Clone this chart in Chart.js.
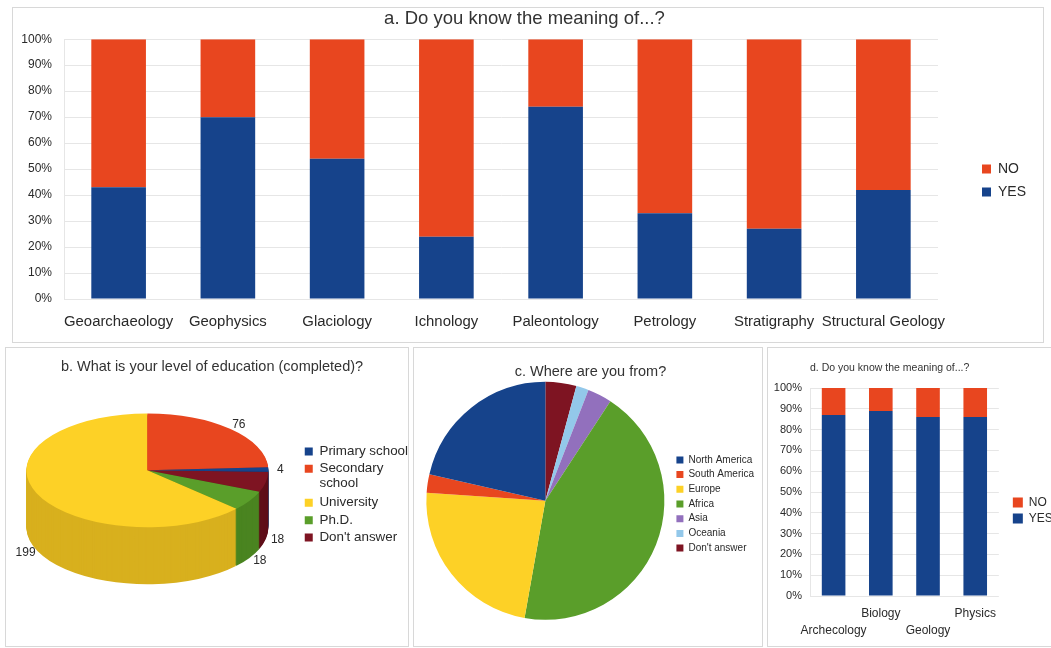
<!DOCTYPE html>
<html>
<head>
<meta charset="utf-8">
<script src="https://cdn.jsdelivr.net/npm/chart.js@4.4.1/dist/chart.umd.min.js"></script>
<style>
  html, body { margin: 0; padding: 0; background: #fff; width: 1051px; height: 648px; overflow: hidden; position: relative; }
  .panel { position: absolute; box-sizing: border-box; border: 1px solid #d8d8d8; background: #fff; }
  .panel canvas { display: block; }
</style>
</head>
<body>
<div class="panel" style="left:12px;top:7px;width:1032px;height:336px"><canvas id="chartA" width="1030" height="334"></canvas></div>
<div class="panel" style="left:5px;top:347px;width:404px;height:300px"><canvas id="chartB" width="412" height="298"></canvas></div>
<div class="panel" style="left:413px;top:347px;width:350px;height:300px"><canvas id="chartC" width="350" height="298"></canvas></div>
<div class="panel" style="left:767px;top:347px;width:300px;height:300px"><canvas id="chartD" width="298" height="298"></canvas></div>
<script>
// a. Do you know the meaning of...? (percent)
const topics = ["Geoarchaeology", "Geophysics", "Glaciology", "Ichnology", "Paleontology", "Petrology", "Stratigraphy", "Structural Geology"];
const topicsYes = [43, 70, 54, 24, 74, 33, 27, 42];
const topicsNo = [57, 30, 46, 76, 26, 67, 73, 58];

// b. level of education (counts), legend order
const education = ["Primary school", ["Secondary", "school"], "University", "Ph.D.", "Don't answer"];
const educationCounts = [4, 76, 199, 18, 18];

// c. where are you from (share of answers, %), legend order
const regions = ["North America", "South America", "Europe", "Africa", "Asia", "Oceania", "Don't answer"];
const regionShares = [21.4, 2.5, 23.3, 43.6, 3.3, 1.7, 4.2];

// d. Do you know the meaning of...? (percent)
const sciences = ["Archecology", "Biology", "Geology", "Physics"];
const sciencesYes = [87, 89, 86, 86];
const sciencesNo = [13, 11, 14, 14];

const BLUE = "#16438b", ORANGE = "#e8461f", YELLOW = "#fdd126", GREEN = "#5a9e2a", DARKRED = "#7e1422";
const PURPLE = "#9270bd", LIGHTBLUE = "#93c8ea";
const eduColors = [BLUE, ORANGE, YELLOW, GREEN, DARKRED];
const eduSides = ["#0f3466", "#c4381a", "#d8b01e", "#4a8420", "#5f0e18"];
const regionColors = [BLUE, ORANGE, YELLOW, GREEN, PURPLE, LIGHTBLUE, DARKRED];

Chart.defaults.font.family = "'Liberation Sans', Arial, sans-serif";
Chart.defaults.color = "#2a2a2a";

// squashes a pie into an ellipse and gives it a side wall, then writes the values
const tiltPlugin = {
  id: "tilt",
  beforeDatasetsDraw(chart, args, opts) {
    const arcs = chart.getDatasetMeta(0).data;
    const ctx = chart.ctx;
    const { x, y, outerRadius } = arcs[0];
    const sq = opts.squash || 1;
    ctx.save();
    ctx.translate(x + (opts.dx || 0), y + (opts.dy || 0));
    ctx.scale(1, sq);
    ctx.translate(-x, -y);
    for (let d = opts.depth || 0; d > 0; d--) {
      arcs.forEach((arc, i) => {
        ctx.beginPath();
        ctx.moveTo(x, y + d / sq);
        ctx.arc(x, y + d / sq, outerRadius, arc.startAngle, arc.endAngle);
        ctx.closePath();
        ctx.fillStyle = opts.sideColors[i];
        ctx.fill();
      });
    }
  },
  afterDatasetsDraw(chart, args, opts) {
    const ctx = chart.ctx;
    ctx.restore();
    if (!opts.values) return;
    const arcs = chart.getDatasetMeta(0).data;
    const values = chart.data.datasets[0].data;
    const sq = opts.squash || 1;
    ctx.save();
    ctx.font = "12px 'Liberation Sans', Arial, sans-serif";
    ctx.fillStyle = "#2a2a2a";
    ctx.textAlign = "center";
    ctx.textBaseline = "middle";
    arcs.forEach((arc, i) => {
      const mid = (arc.startAngle + arc.endAngle) / 2;
      const R = arc.outerRadius + 12;
      const px = arc.x + (opts.dx || 0) + R * Math.cos(mid);
      const py = arc.y + (opts.dy || 0) + R * Math.sin(mid) * sq + (Math.sin(mid) > 0.1 ? opts.depth : 0);
      ctx.fillText(String(values[i]), px, py);
    });
    ctx.restore();
  }
};

// spacer that shifts legend items downwards
const legendShift = (h) => ({ display: true, text: "", font: { size: 1, lineHeight: 1 }, padding: { top: h, bottom: 0 } });

// ---- a ----
new Chart(document.getElementById("chartA"), {
  type: "bar",
  data: {
    labels: topics,
    datasets: [
      { label: "YES", data: topicsYes, backgroundColor: BLUE },
      { label: "NO", data: topicsNo, backgroundColor: ORANGE }
    ]
  },
  options: {
    responsive: false,
    animation: false,
    layout: { padding: { left: 0, right: 7, top: 0, bottom: 11 } },
    datasets: { bar: { categoryPercentage: 1, barPercentage: 0.5 } },
    scales: {
      x: {
        stacked: true,
        grid: { display: false, drawTicks: false },
        border: { display: false },
        ticks: { font: { size: 14.9 }, padding: 14, maxRotation: 0, autoSkip: false },
        afterFit: (axis) => { axis.height = 32; }
      },
      y: {
        stacked: true, min: 0, max: 100,
        ticks: { stepSize: 10, callback: (v) => v + "%", font: { size: 12 }, padding: 12 },
        grid: { color: "#e6e6e6", drawTicks: false },
        border: { color: "#e6e6e6" },
        afterFit: (axis) => { axis.width = 51; }
      },
      y2: {
        position: "right",
        grid: { display: false }, ticks: { display: false }, border: { display: false },
        afterFit: (axis) => { axis.width = 35; }
      }
    },
    plugins: {
      title: { display: true, text: "a. Do you know the meaning of...?", font: { size: 18.5, weight: "normal" }, color: "#333", padding: { top: 0, bottom: 9 } },
      legend: { position: "right", reverse: true, title: legendShift(21), labels: { boxWidth: 9, boxHeight: 9, padding: 9, font: { size: 14 } } },
      tooltip: { enabled: false }
    }
  }
});

// ---- b ----
new Chart(document.getElementById("chartB"), {
  type: "pie",
  data: {
    labels: education.slice().reverse(),
    datasets: [{
      data: educationCounts.slice().reverse(),
      backgroundColor: eduColors.slice().reverse(),
      borderWidth: 0,
      radius: 121
    }]
  },
  plugins: [tiltPlugin],
  options: {
    responsive: false,
    animation: false,
    rotation: 91.43,
    layout: { padding: { left: 0, right: 0, top: 0, bottom: 5 } },
    plugins: {
      title: { display: true, text: "b. What is your level of education (completed)?", font: { size: 14.5, weight: "normal" }, color: "#333", padding: { top: 10.3, bottom: 10 } },
      legend: { position: "right", reverse: true, labels: { boxWidth: 8, boxHeight: 8, padding: 4, font: { size: 13.4, lineHeight: 1.12 } } },
      tooltip: { enabled: false },
      tilt: { squash: 0.47, depth: 57, dx: -6, dy: -43, sideColors: eduSides.slice().reverse(), values: true }
    }
  }
});

// ---- c ----
new Chart(document.getElementById("chartC"), {
  type: "pie",
  data: {
    labels: regions.slice().reverse(),
    datasets: [{
      data: regionShares.slice().reverse(),
      backgroundColor: regionColors.slice().reverse(),
      borderWidth: 0,
      radius: 119
    }]
  },
  plugins: [tiltPlugin],
  options: {
    responsive: false,
    animation: false,
    layout: { padding: { left: 3, right: 0, top: 0, bottom: 0 } },
    plugins: {
      title: { display: true, text: "c. Where are you from?", font: { size: 14.5, weight: "normal" }, color: "#333", padding: { top: 15.3, bottom: 3 } },
      legend: { position: "right", reverse: true, title: legendShift(13), labels: { boxWidth: 7, boxHeight: 7, padding: 4.7, font: { size: 10 } } },
      tooltip: { enabled: false },
      tilt: { squash: 1, depth: 0, dx: 1, dy: -14, sideColors: [], values: false }
    }
  }
});

// ---- d ----
new Chart(document.getElementById("chartD"), {
  type: "bar",
  data: {
    labels: sciences,
    datasets: [
      { label: "YES", data: sciencesYes, backgroundColor: BLUE },
      { label: "NO", data: sciencesNo, backgroundColor: ORANGE }
    ]
  },
  options: {
    responsive: false,
    animation: false,
    layout: { padding: { left: 0, right: 9, top: 0, bottom: 6 } },
    datasets: { bar: { categoryPercentage: 1, barPercentage: 0.5 } },
    scales: {
      x: {
        stacked: true,
        grid: { display: false, drawTicks: false },
        border: { display: false },
        ticks: {
          font: { size: 12, lineHeight: 1.4 }, padding: 9.6, maxRotation: 0, autoSkip: false,
          callback: (v, i) => (i % 2 ? sciences[i] : ["", sciences[i]])
        },
        afterFit: (axis) => { axis.height = 44; }
      },
      y: {
        stacked: true, min: 0, max: 100,
        ticks: { stepSize: 10, callback: (v) => v + "%", font: { size: 11 }, padding: 8 },
        grid: { color: "#e6e6e6", drawTicks: false },
        border: { color: "#e6e6e6" },
        afterFit: (axis) => { axis.width = 42; }
      },
      y2: {
        position: "right",
        grid: { display: false }, ticks: { display: false }, border: { display: false },
        afterFit: (axis) => { axis.width = 10; }
      }
    },
    plugins: {
      title: { display: true, align: "start", fullSize: false, text: "d. Do you know the meaning of...?", font: { size: 10.5, weight: "normal" }, color: "#333", padding: { top: 13.7, bottom: 13.7 } },
      legend: { position: "right", reverse: true, title: legendShift(32), labels: { boxWidth: 10, boxHeight: 10, padding: 4, font: { size: 12 } } },
      tooltip: { enabled: false }
    }
  }
});
</script>
</body>
</html>
